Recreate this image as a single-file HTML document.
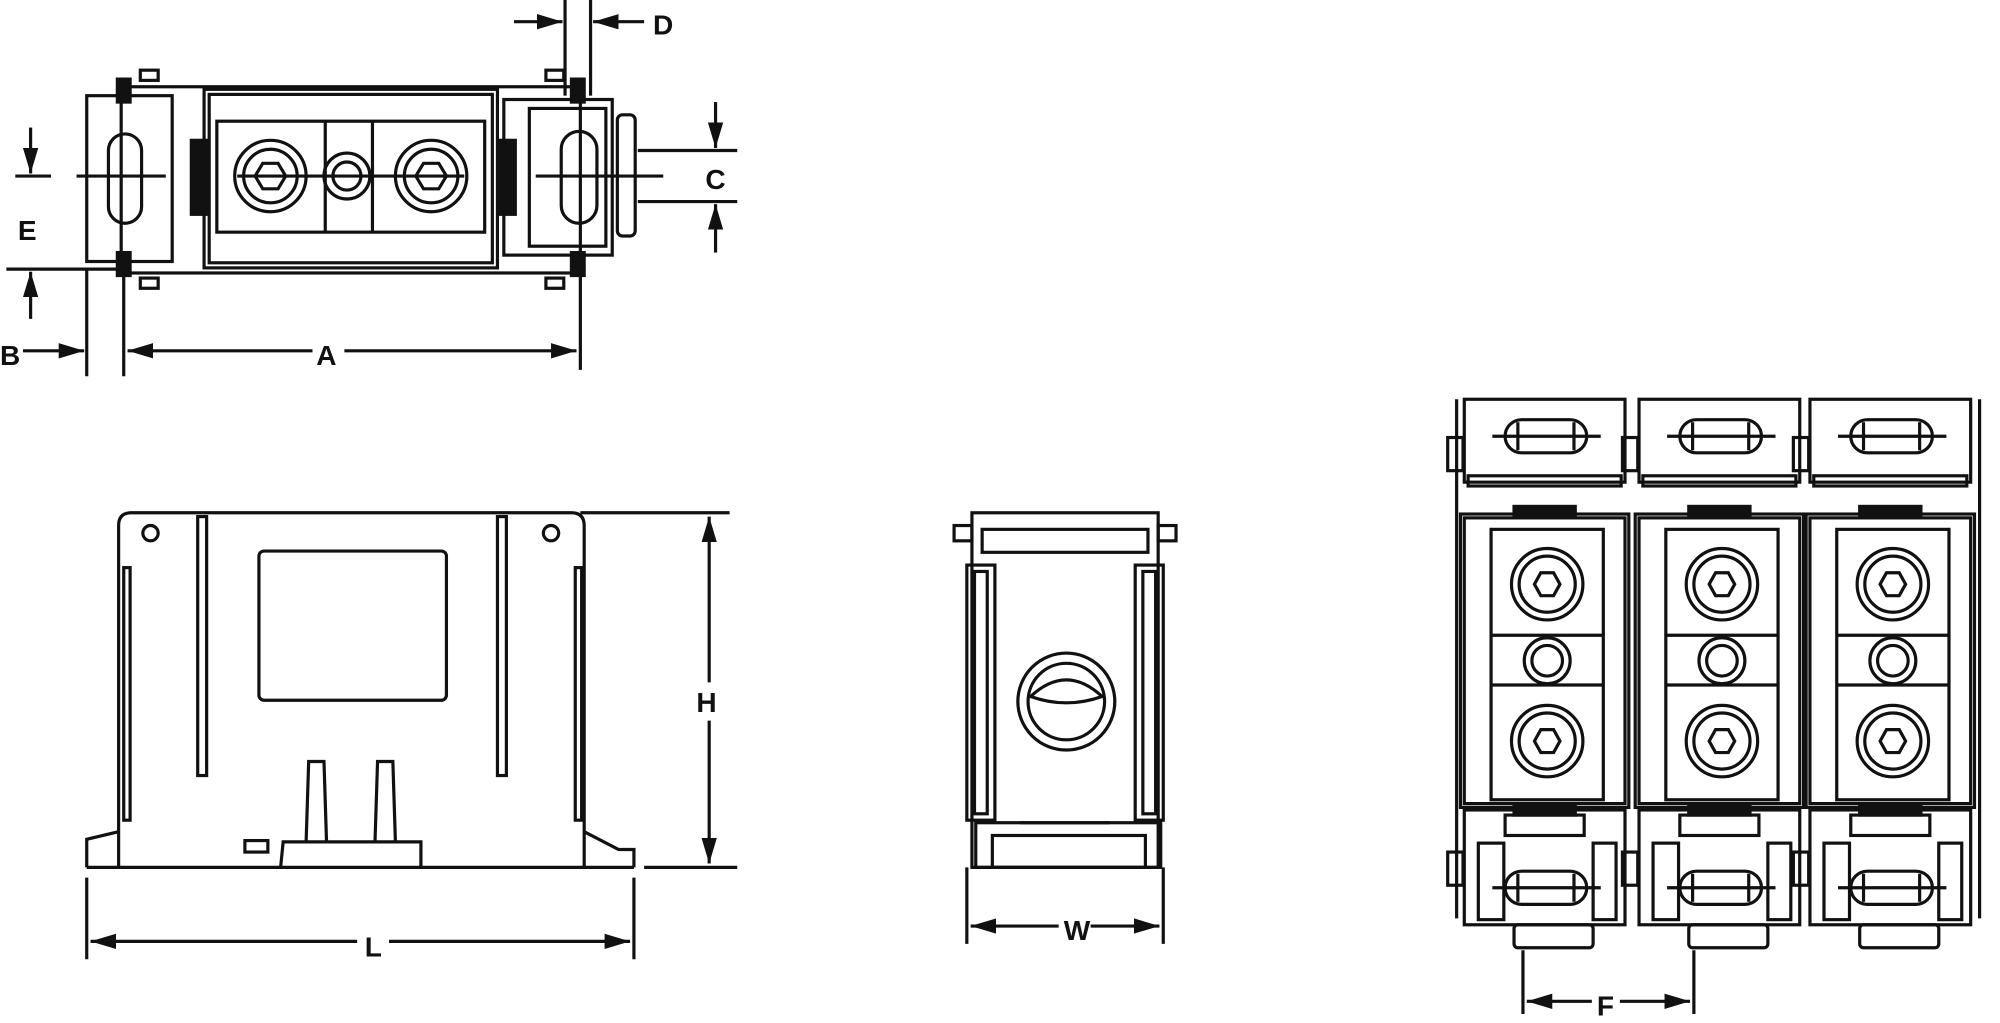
<!DOCTYPE html>
<html><head><meta charset="utf-8"><style>
html,body{margin:0;padding:0;background:#fff;}
svg{display:block;}
text{font-family:"Liberation Sans",sans-serif;font-weight:bold;font-size:22px;fill:#111;}
</style></head><body>
<svg width="2000" height="1023" viewBox="0 0 1568 802" xmlns="http://www.w3.org/2000/svg">
<defs>
<marker id="ar" viewBox="0 0 10 10" refX="10" refY="5" markerWidth="8" markerHeight="8" orient="auto-start-reverse"><path d="M0,2 L10,5 L0,8 z" fill="#111"/></marker>
<g id="module" fill="none" stroke="#111" stroke-width="2.5">
  <!-- top cap -->
  <rect x="3" y="0" width="126" height="65"/>
  <rect x="6" y="60" width="120" height="8"/>
  <rect x="35" y="16" width="64" height="26" rx="13"/>
  <line x1="25" y1="29" x2="110" y2="29"/>
  <line x1="45" y1="18" x2="45" y2="40"/><line x1="89" y1="18" x2="89" y2="40"/>
  <rect x="-10" y="30" width="12" height="26"/>
  <!-- body -->
  <rect x="0" y="90" width="132" height="230"/>
  <rect x="3" y="93" width="126" height="224"/>
  <rect x="24" y="102" width="88" height="212"/>
  <line x1="24" y1="185" x2="112" y2="185"/><line x1="24" y1="224" x2="112" y2="224"/>
  <circle cx="68" cy="145" r="28"/><circle cx="68" cy="145" r="22"/>
  <polygon points="58,145 63,136 73,136 78,145 73,154 63,154"/>
  <circle cx="68" cy="205" r="18"/><circle cx="68" cy="205" r="12"/>
  <circle cx="68" cy="268" r="28"/><circle cx="68" cy="268" r="22"/>
  <polygon points="58,268 63,259 73,259 78,268 73,277 63,277"/>
  <rect x="42" y="84" width="48" height="8" fill="#111"/>
  <rect x="42" y="318" width="48" height="8" fill="#111"/>
  <!-- bottom cap -->
  <rect x="3" y="322" width="126" height="90"/>
  <rect x="35" y="326" width="62" height="16"/>
  <rect x="14" y="348" width="20" height="60"/>
  <rect x="104" y="348" width="18" height="60"/>
  <rect x="35" y="370" width="64" height="26" rx="13"/>
  <line x1="25" y1="383" x2="110" y2="383"/>
  <line x1="45" y1="372" x2="45" y2="394"/><line x1="89" y1="372" x2="89" y2="394"/>
  <rect x="42" y="412" width="62" height="18" rx="3"/>
  <rect x="-10" y="355" width="12" height="26"/>
</g>
</defs>
<g fill="none" stroke="#111" stroke-width="2.5">
<!-- ===== TOP VIEW ===== -->
<rect x="68" y="75" width="67" height="130"/>
<rect x="95" y="68" width="360" height="146"/>
<rect x="160" y="70" width="230" height="140"/>
<rect x="164" y="74" width="222" height="132"/>
<rect x="170" y="95" width="210" height="87"/>
<line x1="255" y1="95" x2="255" y2="182"/><line x1="292" y1="95" x2="292" y2="182"/>
<circle cx="212" cy="138" r="28"/><circle cx="212" cy="138" r="21"/>
<polygon points="200,138 206,128 218,128 224,138 218,148 206,148"/>
<circle cx="272" cy="138" r="18"/><circle cx="272" cy="138" r="11"/>
<circle cx="338" cy="138" r="28"/><circle cx="338" cy="138" r="21"/>
<polygon points="326,138 332,128 344,128 350,138 344,148 332,148"/>
<line x1="186" y1="138" x2="364" y2="138"/>
<rect x="150" y="110" width="12" height="58" fill="#111"/>
<rect x="392" y="110" width="12" height="58" fill="#111"/>
<rect x="395" y="78" width="85" height="122"/>
<rect x="415" y="85" width="60" height="108"/>
<rect x="85" y="105" width="26" height="70" rx="13"/>
<rect x="440" y="103" width="28" height="72" rx="14"/>
<rect x="484" y="90" width="14" height="95" rx="4"/>
<line x1="60" y1="138" x2="130" y2="138"/><line x1="420" y1="138" x2="520" y2="138"/>
<rect x="92" y="62" width="10" height="18" fill="#111"/><rect x="92" y="198" width="10" height="18" fill="#111"/>
<rect x="110" y="55" width="14" height="8"/><rect x="110" y="218" width="14" height="8"/>
<rect x="428" y="55" width="14" height="8"/><rect x="428" y="218" width="14" height="8"/>
<rect x="448" y="62" width="10" height="18" fill="#111"/><rect x="448" y="198" width="10" height="18" fill="#111"/>
<!-- dims top view -->
<line x1="68" y1="212" x2="68" y2="295"/><line x1="97" y1="215" x2="97" y2="295"/>
<line x1="455" y1="215" x2="455" y2="290"/>
<line x1="100" y1="275" x2="245" y2="275" marker-start="url(#ar)"/>
<line x1="270" y1="275" x2="452" y2="275" marker-end="url(#ar)"/>
<line x1="18" y1="275" x2="66" y2="275" marker-end="url(#ar)"/>
<line x1="12" y1="138" x2="40" y2="138"/><line x1="5" y1="211" x2="95" y2="211"/>
<line x1="24" y1="100" x2="24" y2="136" marker-end="url(#ar)"/>
<line x1="24" y1="250" x2="24" y2="213" marker-end="url(#ar)"/>
<line x1="443" y1="0" x2="443" y2="75"/><line x1="463" y1="0" x2="463" y2="75"/>
<line x1="403" y1="17" x2="441" y2="17" marker-end="url(#ar)"/>
<line x1="505" y1="17" x2="465" y2="17" marker-end="url(#ar)"/>
<line x1="500" y1="118" x2="578" y2="118"/><line x1="500" y1="158" x2="578" y2="158"/>
<line x1="561" y1="80" x2="561" y2="116" marker-end="url(#ar)"/>
<line x1="561" y1="198" x2="561" y2="160" marker-end="url(#ar)"/>
<!-- ===== FRONT VIEW ===== -->
<path d="M93,680 L93,412 Q93,402 103,402 L448,402 Q458,402 458,412 L458,680"/>
<line x1="68" y1="680" x2="497" y2="680"/>
<path d="M68,680 L68,658 L93,652"/><path d="M458,652 L485,666 L497,666 L497,680"/>
<circle cx="118" cy="418" r="6"/><circle cx="432" cy="418" r="6"/>
<rect x="203" y="432" width="147" height="117" rx="4"/>
<rect x="155" y="405" width="7" height="203"/><rect x="390" y="405" width="7" height="203"/>
<rect x="97" y="445" width="5" height="198"/><rect x="451" y="445" width="5" height="198"/>
<path d="M240,660 L242,597 L254,597 L256,660"/><path d="M294,660 L296,597 L308,597 L310,660"/>
<path d="M220,680 L222,660 L330,660 L330,680"/>
<rect x="192" y="659" width="18" height="9"/>
<line x1="455" y1="402" x2="572" y2="402"/><line x1="505" y1="680" x2="578" y2="680"/>
<line x1="556" y1="535" x2="556" y2="405" marker-end="url(#ar)"/>
<line x1="556" y1="565" x2="556" y2="677" marker-end="url(#ar)"/>
<line x1="68" y1="688" x2="68" y2="752"/><line x1="497" y1="688" x2="497" y2="752"/>
<line x1="280" y1="738" x2="71" y2="738" marker-end="url(#ar)"/>
<line x1="305" y1="738" x2="494" y2="738" marker-end="url(#ar)"/>
<!-- ===== SIDE VIEW ===== -->
<rect x="762" y="402" width="146" height="278"/>
<rect x="770" y="415" width="130" height="18"/>
<rect x="758" y="443" width="22" height="200"/><rect x="764" y="448" width="10" height="190"/>
<rect x="890" y="443" width="22" height="200"/><rect x="896" y="448" width="10" height="190"/>
<rect x="748" y="412" width="14" height="12"/><rect x="908" y="412" width="14" height="12"/>
<circle cx="836" cy="550" r="38"/><circle cx="836" cy="550" r="30"/>
<path d="M808,546 Q836,520 864,546 Q836,556 808,546 Z"/>
<rect x="765" y="645" width="145" height="35"/>
<rect x="778" y="655" width="120" height="25"/>
<line x1="800" y1="645" x2="870" y2="645"/>
<line x1="758" y1="680" x2="758" y2="740"/><line x1="912" y1="680" x2="912" y2="740"/>
<line x1="830" y1="726" x2="761" y2="726" marker-end="url(#ar)"/>
<line x1="855" y1="726" x2="909" y2="726" marker-end="url(#ar)"/>
<!-- ===== RIGHT ASSEMBLY ===== -->
<line x1="1142" y1="313" x2="1142" y2="720"/><line x1="1552" y1="313" x2="1552" y2="720"/>
<line x1="1194" y1="745" x2="1194" y2="795"/><line x1="1328" y1="745" x2="1328" y2="795"/>
<line x1="1248" y1="785" x2="1197" y2="785" marker-end="url(#ar)"/>
<line x1="1270" y1="785" x2="1325" y2="785" marker-end="url(#ar)"/>
</g>
<use href="#module" x="1145" y="313"/>
<use href="#module" x="1282" y="313"/>
<use href="#module" x="1416" y="313"/>
<text x="0" y="286">B</text>
<text x="248" y="286">A</text>
<text x="14" y="188">E</text>
<text x="512" y="27">D</text>
<text x="553" y="148">C</text>
<text x="546" y="558">H</text>
<text x="286" y="750">L</text>
<text x="834" y="737">W</text>
<text x="1252" y="796">F</text>
</svg>
</body></html>
